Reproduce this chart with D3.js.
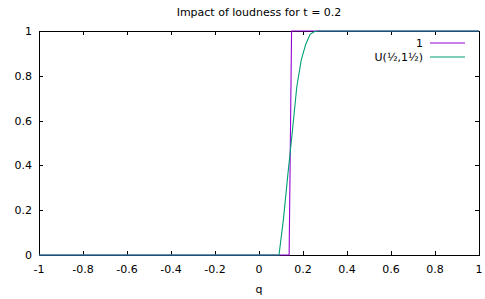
<!DOCTYPE html>
<html>
<head>
<meta charset="utf-8">
<script src="https://cdn.jsdelivr.net/npm/d3@7"></script>
<style>
  body { margin: 0; background: #fff; }
  text { font-family: "DejaVu Sans", sans-serif; font-size: 11px; fill: #000; }
</style>
</head>
<body>
<div id="chart"></div>
<script>
// Data

let stepQ = [-1, 0.137, 0.148, 1]
let stepValues = [0, 0, 1, 1]

let uniformQ = [-1, 0.0909, 0.1111, 0.1313, 0.1515, 0.1717, 0.1919, 0.2121, 0.2323, 0.2525, 0.2727, 1]
let uniformValues = [0, 0, 0.16, 0.36, 0.55, 0.75, 0.87, 0.94, 0.985, 0.998, 1, 1]

let xTicks = [-1, -0.8, -0.6, -0.4, -0.2, 0, 0.2, 0.4, 0.6, 0.8, 1]
let yTicks = [0, 0.2, 0.4, 0.6, 0.8, 1]

let seriesNames = [`1`, `U(½,1½)`]
let seriesColors = [`#9400d3`, `#009e73`]

// Spatial

let width = 485
let height = 299
let plotLeft = 39
let plotRight = 479
let plotTop = 31
let plotBottom = 255
let tickLen = 4

let svg = d3.select(`#chart`)
  .append(`svg`)
  .attr(`width`, width)
  .attr(`height`, height)

let x = d3.scaleLinear().domain([-1, 1]).range([plotLeft, plotRight])
let y = d3.scaleLinear().domain([0, 1]).range([plotBottom, plotTop])

// Ticks (inward, mirrored on top/right)

let fmt = d => d3.format(`~g`)(d).replace(`−`, `-`)

let tickG = svg.append(`g`).attr(`stroke`, `#000`).attr(`stroke-width`, 1)

xTicks.forEach(d => {
  let px = Math.round(x(d)) + 0.5
  tickG.append(`line`).attr(`x1`, px).attr(`x2`, px).attr(`y1`, plotBottom).attr(`y2`, plotBottom - tickLen)
  tickG.append(`line`).attr(`x1`, px).attr(`x2`, px).attr(`y1`, plotTop).attr(`y2`, plotTop + tickLen)
  svg.append(`text`)
    .attr(`x`, x(d))
    .attr(`y`, plotBottom + 18)
    .attr(`text-anchor`, `middle`)
    .text(fmt(d))
})

yTicks.forEach(d => {
  let py = Math.round(y(d)) + 0.5
  tickG.append(`line`).attr(`x1`, plotLeft).attr(`x2`, plotLeft + tickLen).attr(`y1`, py).attr(`y2`, py)
  tickG.append(`line`).attr(`x1`, plotRight).attr(`x2`, plotRight - tickLen).attr(`y1`, py).attr(`y2`, py)
  svg.append(`text`)
    .attr(`x`, plotLeft - 7)
    .attr(`y`, y(d) + 4)
    .attr(`text-anchor`, `end`)
    .text(fmt(d))
})

// Border

svg.append(`rect`)
  .attr(`x`, plotLeft + 0.5)
  .attr(`y`, plotTop + 0.5)
  .attr(`width`, plotRight - plotLeft)
  .attr(`height`, plotBottom - plotTop)
  .attr(`fill`, `none`)
  .attr(`stroke`, `#000`)
  .attr(`stroke-width`, 1)

// Curves

let line = d3.line()
  .x(d => x(d[0]))
  .y(d => y(d[1]))

let series = [
  d3.zip(stepQ, stepValues),
  d3.zip(uniformQ, uniformValues),
]

series.forEach((pts, i) => {
  svg.append(`path`)
    .attr(`d`, line(pts))
    .attr(`fill`, `none`)
    .attr(`stroke`, seriesColors[i])
    .attr(`stroke-width`, 1.1)
})

// Legend

seriesNames.forEach((name, i) => {
  let ly = 43 + i * 14
  svg.append(`text`)
    .attr(`x`, 423)
    .attr(`y`, ly + 4)
    .attr(`text-anchor`, `end`)
    .text(name)
  svg.append(`line`)
    .attr(`x1`, 430)
    .attr(`x2`, 465)
    .attr(`y1`, ly)
    .attr(`y2`, ly)
    .attr(`stroke`, seriesColors[i])
    .attr(`stroke-width`, 1.1)
})

// Title and axis label

svg.append(`text`)
  .attr(`x`, (plotLeft + plotRight) / 2)
  .attr(`y`, 16)
  .attr(`text-anchor`, `middle`)
  .text(`Impact of loudness for t = 0.2`)

svg.append(`text`)
  .attr(`x`, (plotLeft + plotRight) / 2)
  .attr(`y`, 293)
  .attr(`text-anchor`, `middle`)
  .text(`q`)
</script>
</body>
</html>
